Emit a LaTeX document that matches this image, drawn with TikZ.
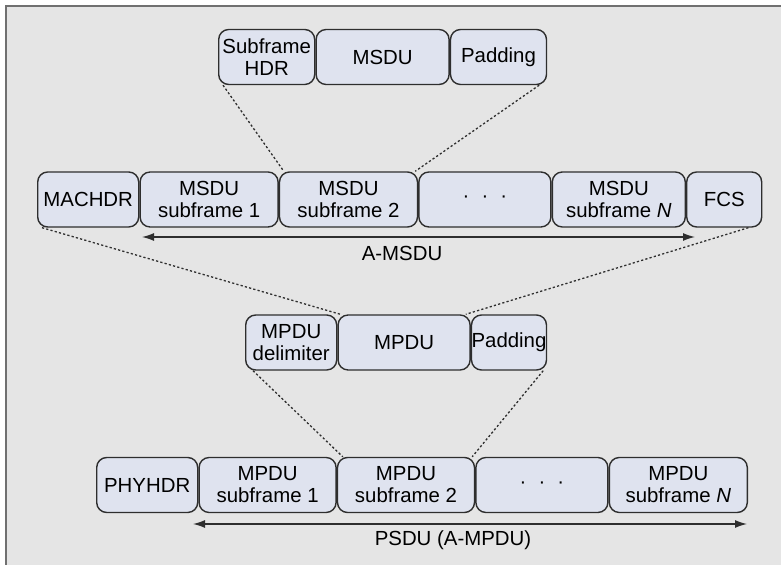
\documentclass[tikz,border=0pt]{standalone}
\usepackage{fontspec}
\setmainfont{Liberation Sans}
\usetikzlibrary{positioning,calc,arrows.meta}
\definecolor{bggray}{HTML}{E5E5E5}
\definecolor{framegray}{HTML}{707070}
\definecolor{boxblue}{HTML}{DFE3EF}
\definecolor{edgegray}{HTML}{2E2E2E}

\begin{document}
\begin{tikzpicture}[x=0.5pt,y=-0.5pt,
		field/.style={rectangle,rounded corners=5pt,draw=edgegray,line width=0.7pt,fill=boxblue,
			inner sep=0pt,minimum height=27.5pt,align=center,font=\fontsize{10.2}{11}\selectfont},
		zoomline/.style={edgegray,line width=0.65pt,dash pattern=on 1.1pt off 1.1pt},
		spanarrow/.style={edgegray,line width=0.65pt,{Latex[length=6pt,width=4pt]}-{Latex[length=6pt,width=4pt]}},
		spanlabel/.style={font=\fontsize{10.2}{11}\selectfont,inner sep=0pt},
		node distance=0pt
		]
	\useasboundingbox (0,0) rectangle (781,565);
	\fill[bggray] (6,6) rectangle (781,565);
	\draw[framegray,line width=1pt] (6,565) -- (6,6) -- (781,6);

	\node [field,minimum width=48pt,anchor=west] (subhdr) at (218,57) {Subframe\\HDR};
	\node [field,minimum width=66.5pt,right=of subhdr] (msdu) {MSDU};
	\node [field,minimum width=48pt,right=of msdu] (pad1) {Padding};

	\node [field,minimum width=50.5pt,anchor=west] (machdr) at (37,199.5) {MACHDR};
	\node [field,minimum width=69pt,right=of machdr] (msf1) {MSDU\\subframe 1};
	\node [field,minimum width=69pt,right=of msf1] (msf2) {MSDU\\subframe 2};
	\node [field,minimum width=66pt,right=of msf2] (mdots) {·\hspace{6pt}·\hspace{6pt}·};
	\node [field,minimum width=66.5pt,right=of mdots] (msfn) {MSDU\\subframe \textit{N}};
	\node [field,minimum width=37.5pt,right=of msfn] (fcs) {FCS};

	\coordinate (amsduL) at (142,237);
	\coordinate (amsduR) at (695,237);
	\draw [spanarrow] (amsduL) -- (amsduR);
	\node [spanlabel] (amsdu) at (402,253) {A-MSDU};

	\node [field,minimum width=45.5pt,anchor=west] (delim) at (245,342.5) {MPDU\\delimiter};
	\node [field,minimum width=66pt,right=of delim] (mpdu) {MPDU};
	\node [field,minimum width=37.5pt,right=of mpdu] (pad2) {Padding};

	\node [field,minimum width=50.5pt,anchor=west] (phyhdr) at (96,485) {PHYHDR};
	\node [field,minimum width=68.5pt,right=of phyhdr] (psf1) {MPDU\\subframe 1};
	\node [field,minimum width=68.5pt,right=of psf1] (psf2) {MPDU\\subframe 2};
	\node [field,minimum width=66pt,right=of psf2] (pdots) {·\hspace{6pt}·\hspace{6pt}·};
	\node [field,minimum width=69pt,right=of pdots] (psfn) {MPDU\\subframe \textit{N}};

	\coordinate (psduL) at (193,524);
	\coordinate (psduR) at (747,524);
	\draw [spanarrow] (psduL) -- (psduR);
	\node [spanlabel] (psdu) at (453,540) {PSDU (A-MPDU)};

	\draw [zoomline] ($(subhdr.south west)+(5,0)$) -- ($(msf2.north west)+(5,0)$);
	\draw [zoomline] ($(pad1.south east)+(-8,0)$) -- ($(msf2.north east)+(-3,0)$);
	\draw [zoomline] ($(machdr.south west)+(5,0)$) -- ($(mpdu.north west)+(3,0)$);
	\draw [zoomline] ($(fcs.south east)+(-14,0)$) -- ($(mpdu.north east)+(-5,0)$);
	\draw [zoomline] ($(delim.south west)+(8,0)$) -- ($(psf2.north west)+(6,0)$);
	\draw [zoomline] ($(pad2.south east)+(-4,0)$) -- ($(psf2.north east)+(-3,0)$);
\end{tikzpicture}
\end{document}
